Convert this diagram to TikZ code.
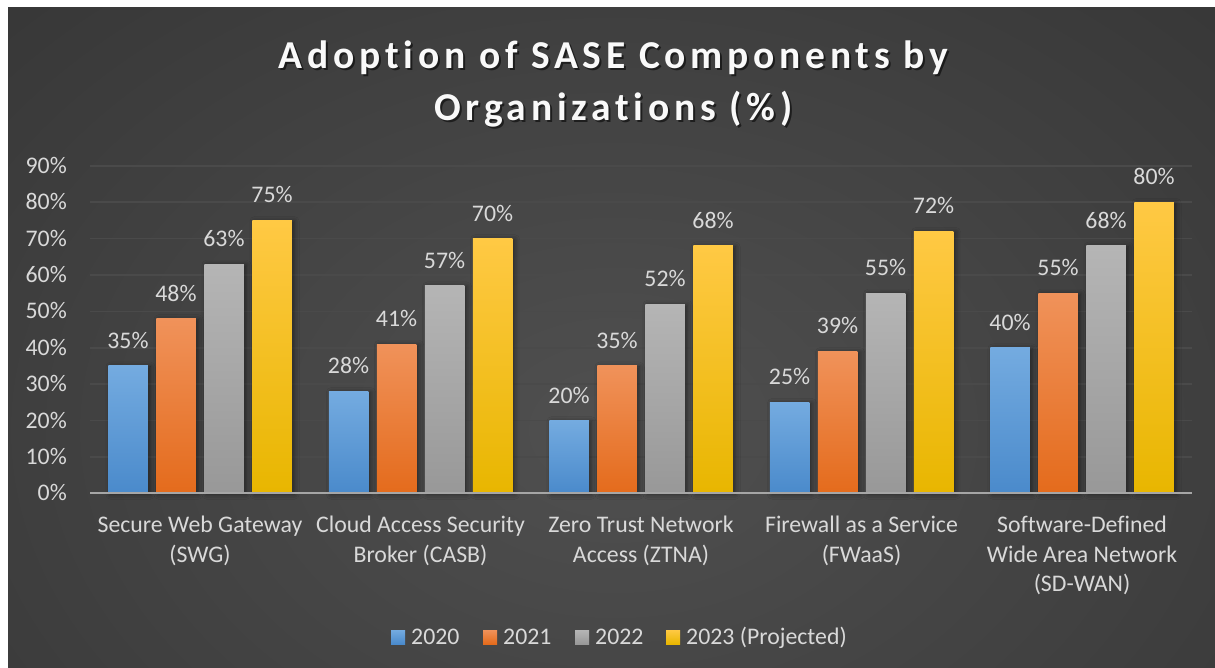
\documentclass[tikz,border=0pt]{standalone}
\usepackage{fontspec}
\setmainfont[Ligatures=NoCommon]{Carlito}
\newfontfamily\titlefont[LetterSpace=12, Ligatures=NoCommon]{Carlito}
\usetikzlibrary{shadows.blur}

\definecolor{bgin}{HTML}{505050}
\definecolor{bgout}{HTML}{262626}
\definecolor{labeltext}{HTML}{D9D9D9}
\definecolor{gridcol}{HTML}{4A4A4A}
\definecolor{axiscol}{HTML}{A6A6A6}
% series colours: top / middle / bottom of each bar gradient
\definecolor{blueT}{HTML}{74ABE0}\definecolor{blueM}{HTML}{5A9ADA}\definecolor{blueB}{HTML}{4A8ACB}
\definecolor{orangeT}{HTML}{F0925A}\definecolor{orangeM}{HTML}{F47E2C}\definecolor{orangeB}{HTML}{E46B1C}
\definecolor{greyT}{HTML}{B5B5B5}\definecolor{greyM}{HTML}{A8A8A8}\definecolor{greyB}{HTML}{989898}
\definecolor{yellowT}{HTML}{FFC944}\definecolor{yellowM}{HTML}{FFC300}\definecolor{yellowB}{HTML}{E8B600}

\tikzset{
  lbl/.style={text=labeltext, inner sep=0pt, font=\fontsize{23.8}{29.5}\selectfont},
  ylbl/.style={lbl, anchor=base east},
  vlbl/.style={lbl, anchor=base},
  catlbl/.style={lbl, anchor=base, align=center},
  legtxt/.style={lbl, anchor=base west},
  bar/.style={blur shadow={shadow xshift=2.5pt, shadow yshift=-1pt, shadow blur radius=5pt, shadow opacity=45}},
  s1/.style={top color=blueT, middle color=blueM, bottom color=blueB},
  s2/.style={top color=orangeT, middle color=orangeM, bottom color=orangeB},
  s3/.style={top color=greyT, middle color=greyM, bottom color=greyB},
  s4/.style={top color=yellowT, middle color=yellowM, bottom color=yellowB},
  ttl/.style={inner sep=0pt, anchor=base, font=\titlefont\fontsize{39.5}{48}\bfseries\selectfont},
}

\begin{document}
\begin{tikzpicture}[x=1pt, y=-1pt]
\useasboundingbox (0,0) rectangle (1215,668);

% chart area with a soft radial background
\fill[bgout] (8,8) rectangle (1215,668);
\begin{scope}
  \clip (8,8) rectangle (1215,668);
  \shade[inner color=bgin, outer color=bgout] (615,430) ellipse (1450 and 1050);
\end{scope}

% title with a soft drop shadow
\node[ttl, text=black, opacity=0.55] (titleAsh) at (615.5,70.5) {Adoption of SASE Components by};
\node[ttl, text=black, opacity=0.55] (titleBsh) at (615.5,122.5) {Organizations (\%)};
\node[ttl, text=white!95!gray] (titleA) at (613.5,68.5) {Adoption of SASE Components by};
\node[ttl, text=white!95!gray] (titleB) at (613.5,120.5) {Organizations (\%)};

% gridlines and value-axis labels
\foreach \v in {10,20,...,90} {
  \draw[gridcol, line width=1.6pt] (90,{493.3-3.638*\v}) -- (1192,{493.3-3.638*\v});
}
\foreach \v in {0,10,...,90} {
  \node[ylbl] (y\v) at (67,{493.3-3.638*\v+7.6}) {\v\%};
}

% bars and their value labels
\foreach \g/\a/\b/\c/\d in {0/35/48/63/75, 1/28/41/57/70, 2/20/35/52/68, 3/25/39/55/72, 4/40/55/68/80} {
  \pgfmathsetmacro{\cx}{200+220.5*\g}
  \foreach \s/\val in {1/\a, 2/\b, 3/\c, 4/\d} {
    \pgfmathsetmacro{\bx}{\cx-120+48*\s}
    \pgfmathsetmacro{\top}{493.3-3.638*\val}
    \shade[bar, s\s] ({\bx-19.75},493.3) rectangle ({\bx+19.75},\top);
    \node[vlbl] (v\g-\s) at (\bx,{\top-17.5}) {\val\%};
  }
}

% category axis
\coordinate (axisL) at (90,493.3);
\coordinate (axisR) at (1192,493.3);
\draw[axiscol, line width=2.2pt] (axisL) -- (axisR);

% category labels (anchored at the baseline of their last line)
\node[catlbl] (cat0) at (200,562) {Secure Web Gateway\\(SWG)};
\node[catlbl] (cat1) at (420.5,562) {Cloud Access Security\\Broker (CASB)};
\node[catlbl] (cat2) at (641,562) {Zero Trust Network\\Access (ZTNA)};
\node[catlbl] (cat3) at (861.5,562) {Firewall as a Service\\(FWaaS)};
\node[catlbl] (cat4) at (1082,591.5) {Software-Defined\\Wide Area Network\\(SD-WAN)};

% legend
\shade[s1] (391,630) rectangle (405,644);
\node[legtxt] (leg1) at (411,644.6) {2020};
\shade[s2] (483,630) rectangle (497,644);
\node[legtxt] (leg2) at (503,644.6) {2021};
\shade[s3] (575,630) rectangle (589,644);
\node[legtxt] (leg3) at (595,644.6) {2022};
\shade[s4] (666,630) rectangle (680,644);
\node[legtxt] (leg4) at (686,644.6) {2023 (Projected)};
\end{tikzpicture}
\end{document}
